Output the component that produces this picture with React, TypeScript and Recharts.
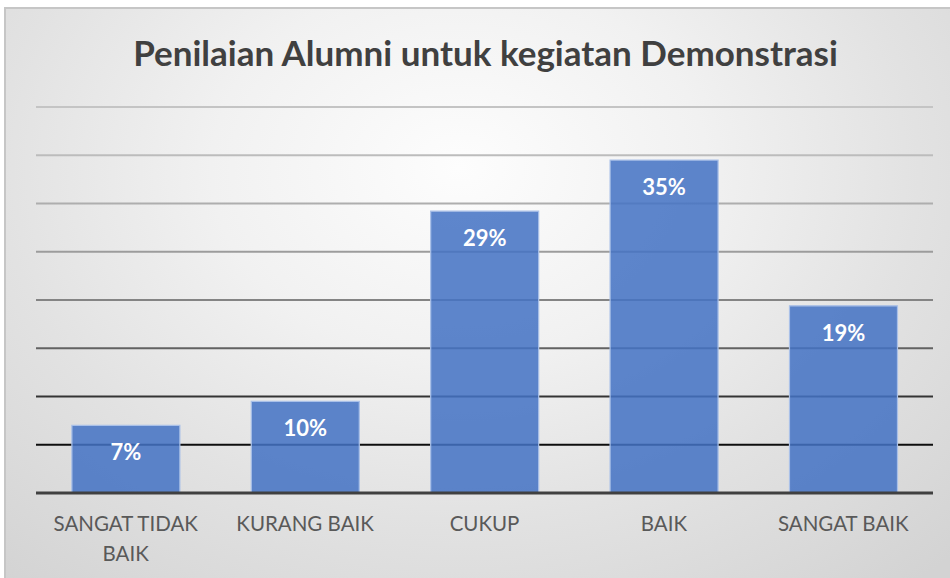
import React from "react";
import { BarChart, Bar, XAxis, YAxis, CartesianGrid, LabelList } from "recharts";

const categories = ["SANGAT TIDAK BAIK", "KURANG BAIK", "CUKUP", "BAIK", "SANGAT BAIK"];
const tickLines = [["SANGAT TIDAK", "BAIK"], ["KURANG BAIK"], ["CUKUP"], ["BAIK"], ["SANGAT BAIK"]];
const percentValues = [7.0, 9.5, 29.2, 34.5, 19.4];
const yTicks = [0, 5, 10, 15, 20, 25, 30, 35, 40];
const titleText = "Penilaian Alumni untuk kegiatan Demonstrasi";

const data = categories.map((c, i) => ({ name: c, idx: i, value: percentValues[i] }));

const W = 950;
const H = 578;
const X_AXIS_H = 30;
const MARGIN = { top: 107, right: 17, bottom: 85 - X_AXIS_H, left: 36 };
const PLOT_TOP = MARGIN.top;
const PLOT_BOTTOM = H - 85;

const gridShades = [196, 188, 174, 156, 132, 98, 52, 14, 14];

function gridLine(props: any) {
  const y = props.y1 ?? props.y;
  const x1 = props.x1;
  const x2 = props.x2;
  const t = (y - PLOT_TOP) / (PLOT_BOTTOM - PLOT_TOP);
  const k = Math.max(0, Math.min(gridShades.length - 1, Math.round(t * 8)));
  const v = gridShades[k];
  const c = `rgb(${v},${v},${v})`;
  return <line key={props.key ?? `g-${y}`} x1={x1} x2={x2} y1={y} y2={y} stroke={c} strokeWidth={1.8} />;
}

function CatTick(props: any) {
  const { x, y, payload } = props;
  const lines = tickLines[payload.index] ?? [String(payload.value)];
  return (
    <g>
      {lines.map((l: string, i: number) => (
        <text
          key={i}
          x={x}
          y={y + 38 + i * 30}
          textAnchor="middle"
          fill="#595959"
          fontFamily="Lato, 'Open Sans', sans-serif"
          fontSize={20.5}
        >
          {l}
        </text>
      ))}
    </g>
  );
}

function ValueLabel(props: any) {
  const { x, y, width, value } = props;
  return (
    <text
      x={x + width / 2}
      y={y + 35}
      textAnchor="middle"
      fill="#ffffff"
      fontFamily="Lato, 'Open Sans', sans-serif"
      fontWeight={700}
      fontSize={22}
    >
      {`${Math.round(value)}%`}
    </text>
  );
}

export default function App() {
  return (
    <div style={{ position: "absolute", left: 0, top: 0, width: W, height: H, background: "#ffffff", overflow: "hidden" }}>
      <div
        style={{
          position: "absolute",
          left: 4,
          top: 7,
          width: W - 4,
          height: H - 7,
          borderLeft: "2px solid #c6c6c6",
          borderTop: "2px solid #c6c6c6",
          boxSizing: "border-box",
          background: "radial-gradient(ellipse 75% 95% at 48% 28%, #fdfdfd 0%, #f1f1f1 35%, #e2e2e2 65%, #d3d3d3 100%)",
        }}
      />
      <div
        style={{
          position: "absolute",
          left: 0,
          top: 28,
          width: 971,
          textAlign: "center",
          fontFamily: "Lato, 'Open Sans', sans-serif",
          fontWeight: 700,
          fontSize: 35,
          color: "#404040",
          lineHeight: "48px",
        }}
      >
        {titleText}
      </div>
      <div style={{ position: "absolute", left: 0, top: 0 }}>
        <BarChart width={W} height={H} data={data} margin={MARGIN} barCategoryGap="20%">
          <CartesianGrid vertical={false} horizontal={gridLine} />
          <YAxis hide domain={[0, 40]} ticks={yTicks} />
          <XAxis
            dataKey="name"
            height={X_AXIS_H}
            axisLine={{ stroke: "#404040", strokeWidth: 3 }}
            tickLine={false}
            tickSize={0}
            tickMargin={0}
            tick={<CatTick />}
            interval={0}
          />
          <Bar
            dataKey="value"
            fill="#4472C4"
            fillOpacity={0.86}
            stroke="#a9c0e8"
            strokeWidth={1.2}
            isAnimationActive={false}
          >
            <LabelList dataKey="value" content={<ValueLabel />} />
          </Bar>
        </BarChart>
      </div>
    </div>
  );
}
